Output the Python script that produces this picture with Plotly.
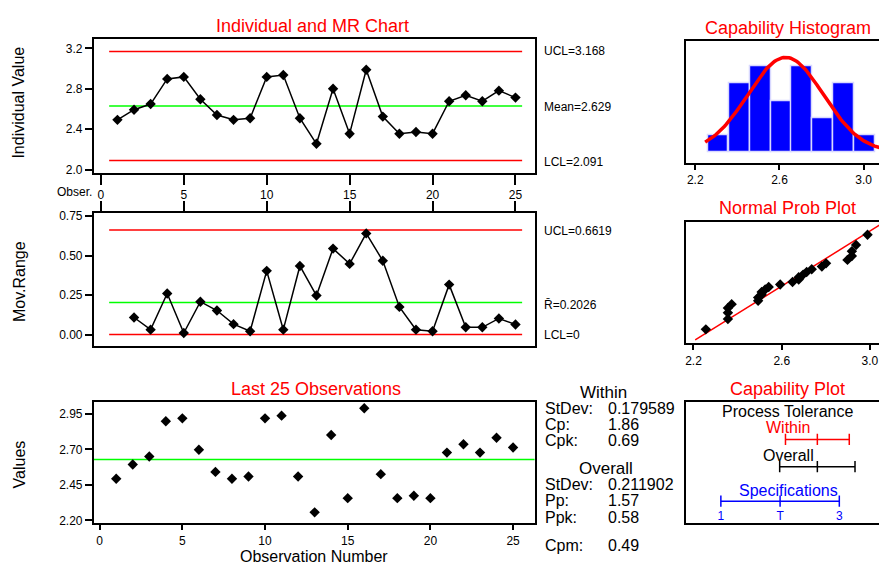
import numpy as np
import plotly.graph_objects as go
from statistics import NormalDist

W, H = 879, 568

# ---------------- data ----------------
observation = [1, 2, 3, 4, 5, 6, 7, 8, 9, 10, 11, 12, 13, 14, 15, 16, 17, 18, 19, 20, 21, 22, 23, 24, 25]
individual = [2.493, 2.593, 2.649, 2.898, 2.918, 2.697, 2.541, 2.493, 2.509, 2.918,
              2.937, 2.509, 2.256, 2.801, 2.356, 2.989, 2.525, 2.356, 2.373, 2.356,
              2.677, 2.736, 2.677, 2.782, 2.713]
mr_observation = [2, 3, 4, 5, 6, 7, 8, 9, 10, 11, 12, 13, 14, 15, 16, 17, 18, 19, 20, 21, 22, 23, 24, 25]
moving_range = [0.108, 0.031, 0.260, 0.010, 0.208, 0.152, 0.066, 0.021, 0.403, 0.031,
                0.434, 0.247, 0.544, 0.447, 0.640, 0.467, 0.175, 0.031, 0.021, 0.316,
                0.046, 0.046, 0.102, 0.064]

i_ucl, i_mean, i_lcl = 3.168, 2.629, 2.091
mr_ucl, mr_bar, mr_lcl = 0.6619, 0.2026, 0.0
limit_span = [0.5, 25.4]

hist_centers = [2.309, 2.41, 2.51, 2.61, 2.707, 2.804, 2.904, 3.006]
hist_counts = [1, 4, 5, 3, 5, 2, 4, 1]
bin_width = 0.0996

stdev_within = 0.179589
stdev_overall = 0.211902
cp, cpk, pp, ppk, cpm = 1.86, 0.69, 1.57, 0.58, 0.49

within_tol = [i_lcl, i_mean, i_ucl]
overall_tol = [1.993, 2.629, 3.265]
spec_limits = [1, 2, 3]
spec_labels = ["1", "T", "3"]

FONT = "Arial, 'Liberation Sans', sans-serif"
RED, GREEN, BLUE = "#FF0000", "#00FF00", "#0000FF"


def px_x(p):
    return p / W


def px_y(p):
    return 1 - p / H


fig = go.Figure()

# ---------- Individual chart ----------
for val, col in [(i_ucl, RED), (i_mean, GREEN), (i_lcl, RED)]:
    fig.add_trace(go.Scatter(x=limit_span, y=[val, val], mode="lines",
                             line=dict(color=col, width=1.5), xaxis="x", yaxis="y"))
fig.add_trace(go.Scatter(x=observation, y=individual, mode="lines+markers",
                         line=dict(color="black", width=1.5),
                         marker=dict(symbol="diamond", size=8, color="black"),
                         xaxis="x", yaxis="y"))

# ---------- MR chart ----------
for val, col in [(mr_ucl, RED), (mr_bar, GREEN), (mr_lcl, RED)]:
    fig.add_trace(go.Scatter(x=limit_span, y=[val, val], mode="lines",
                             line=dict(color=col, width=1.5), xaxis="x2", yaxis="y2"))
fig.add_trace(go.Scatter(x=mr_observation, y=moving_range, mode="lines+markers",
                         line=dict(color="black", width=1.5),
                         marker=dict(symbol="diamond", size=8, color="black"),
                         xaxis="x2", yaxis="y2"))

# ---------- Last 25 observations ----------
fig.add_trace(go.Scatter(x=[-0.5, 26.3], y=[i_mean, i_mean], mode="lines",
                         line=dict(color=GREEN, width=1.5), xaxis="x3", yaxis="y3"))
fig.add_trace(go.Scatter(x=observation, y=individual, mode="markers",
                         marker=dict(symbol="diamond", size=8, color="black"),
                         xaxis="x3", yaxis="y3"))

# ---------- Capability histogram ----------
fig.add_trace(go.Bar(x=hist_centers, y=hist_counts, width=bin_width,
                     marker=dict(color=BLUE, line=dict(color="#D8D8FF", width=1.5)),
                     xaxis="x4", yaxis="y4"))
nd = NormalDist(i_mean, stdev_within)
curve_x = np.linspace(2.247, 3.08, 120)
curve_y = [len(individual) * bin_width * nd.pdf(v) for v in curve_x]
fig.add_trace(go.Scatter(x=curve_x, y=curve_y, mode="lines",
                         line=dict(color=RED, width=3.5), xaxis="x4", yaxis="y4"))

# ---------- Normal probability plot ----------
n = len(individual)
sorted_vals = sorted(individual)
z_scores = [NormalDist().inv_cdf((i + 1 - 0.3) / (n + 0.4)) for i in range(n)]
line_x = [2.2077, 3.08]
line_z = [(v - i_mean) / stdev_within for v in line_x]
fig.add_trace(go.Scatter(x=line_x, y=line_z, mode="lines",
                         line=dict(color=RED, width=1.5), xaxis="x5", yaxis="y5"))
fig.add_trace(go.Scatter(x=sorted_vals, y=z_scores, mode="markers",
                         marker=dict(symbol="diamond", size=8, color="black"),
                         xaxis="x5", yaxis="y5"))

# ---------- Capability plot ----------
for vals, yv, col in [(within_tol, 0.689, RED), (overall_tol, 0.465, "black"),
                      (spec_limits, 0.182, BLUE)]:
    fig.add_trace(go.Scatter(x=vals, y=[yv] * 3, mode="lines+markers",
                             line=dict(color=col, width=1.5),
                             marker=dict(symbol="line-ns-open", size=8,
                                         line=dict(color=col, width=1.5)),
                             xaxis="x6", yaxis="y6"))
fig.add_trace(go.Scatter(x=spec_limits, y=[0.05] * 3, mode="text", text=spec_labels,
                         textfont=dict(color=BLUE, size=12, family=FONT),
                         xaxis="x6", yaxis="y6"))

# ---------------- axes ----------------
base = dict(showgrid=False, zeroline=False, showline=True, linecolor="black",
            linewidth=2, mirror=True, tickfont=dict(size=12, color="black", family=FONT),
            tickcolor="black", tickwidth=1.5, fixedrange=True)

left_dom = [px_x(93), px_x(535)]
right_dom = [px_x(686), 1.0]

layout_axes = dict(
    xaxis=dict(base, domain=left_dom, range=[-0.42, 26.2], tickvals=[0, 5, 10, 15, 20, 25],
               ticks="outside", ticklen=10, anchor="y"),
    yaxis=dict(base, domain=[px_y(171), px_y(36)], range=[1.971, 3.288],
               tickvals=[2.0, 2.4, 2.8, 3.2], tickformat=".1f", ticks="outside", ticklen=7,
               anchor="x"),
    xaxis2=dict(base, domain=left_dom, range=[-0.42, 26.2], tickvals=[0, 5, 10, 15, 20, 25],
                side="top", ticks="outside", ticklen=10, showticklabels=False, anchor="y2"),
    yaxis2=dict(base, domain=[px_y(347), px_y(212)], range=[-0.073, 0.769],
                tickvals=[0, 0.25, 0.5, 0.75], tickformat=".2f", ticks="outside", ticklen=7,
                anchor="x2"),
    xaxis3=dict(base, domain=left_dom, range=[-0.35, 26.35], tickvals=[0, 5, 10, 15, 20, 25],
                ticks="outside", ticklen=5, anchor="y3"),
    yaxis3=dict(base, domain=[px_y(526.7), px_y(403.3)], range=[2.179, 3.036],
                tickvals=[2.20, 2.45, 2.70, 2.95], tickformat=".2f", ticks="outside",
                ticklen=7, anchor="x3"),
    xaxis4=dict(base, domain=right_dom, range=[2.157, 3.0726], tickvals=[2.2, 2.6, 3.0],
                tickformat=".1f", ticks="outside", ticklen=5, anchor="y4"),
    yaxis4=dict(base, domain=[px_y(161), px_y(37.7)], range=[-0.63, 6.48], mirror=False,
                showticklabels=False, ticks="", anchor="x4"),
    xaxis5=dict(base, domain=right_dom, range=[2.167, 3.041], tickvals=[2.2, 2.6, 3.0],
                tickformat=".1f", ticks="outside", ticklen=5, anchor="y5"),
    yaxis5=dict(base, domain=[px_y(344), px_y(221)], range=[-2.477, 2.437], mirror=False,
                showticklabels=False, ticks="", anchor="x5"),
    xaxis6=dict(base, domain=right_dom, range=[0.415, 3.67], showticklabels=False, ticks="",
                anchor="y6"),
    yaxis6=dict(base, domain=[px_y(526.7), px_y(403.3)], range=[0, 1], mirror=False,
                showticklabels=False, ticks="", anchor="x6"),
)


def ann(text, x, y, size=12, color="black", xanchor="left", angle=0):
    return dict(text=text, x=px_x(x), y=px_y(y), xref="paper", yref="paper",
                xanchor=xanchor, yanchor="middle", showarrow=False, textangle=angle,
                borderpad=0, font=dict(size=size, color=color, family=FONT))


S = 16  # stats panel font size
annotations = [
    # titles
    ann("Individual and MR Chart", 312, 22, 18, RED, "center"),
    ann("Capability Histogram", 788, 24, 18, RED, "center"),
    ann("Normal Prob Plot", 787, 207, 18, RED, "center"),
    ann("Last 25 Observations", 315, 390, 18, RED, "center"),
    ann("Capability Plot", 787, 391, 18, RED, "center"),
    # axis titles
    ann("Individual Value", 18, 100, 16, "black", "center", -90),
    ann("Mov.Range", 18, 281, 16, "black", "center", -90),
    ann("Values", 18, 467, 16, "black", "center", -90),
    ann("Observation Number", 313, 560, 16, "black", "center"),
    ann("Obser.", 92, 191, 12, "black", "right"),
    # control limit labels
    ann(f"UCL={i_ucl}", 543, 48),
    ann(f"Mean={i_mean}", 543, 104),
    ann(f"LCL={i_lcl}", 543, 160),
    ann(f"UCL={mr_ucl}", 543, 230),
    ann(f"R\u0304={mr_bar}", 543, 305),
    ann("LCL=0", 543, 336),
    # stats panel
    ann("Within", 603, 394, S + 1, "black", "center"),
    ann("StDev:", 544, 410, S),
    ann(f"{stdev_within}", 607, 410, S),
    ann("Cp:", 544, 426, S),
    ann(f"{cp:.2f}", 607, 426, S),
    ann("Cpk:", 544, 443, S),
    ann(f"{cpk:.2f}", 607, 443, S),
    ann("Overall", 606, 471, S + 1, "black", "center"),
    ann("StDev:", 544, 487, S),
    ann(f"{stdev_overall}", 607, 487, S),
    ann("Pp:", 544, 504, S),
    ann(f"{pp:.2f}", 607, 504, S),
    ann("Ppk:", 544, 521, S),
    ann(f"{ppk:.2f}", 607, 521, S),
    ann("Cpm:", 544, 549, S),
    ann(f"{cpm:.2f}", 607, 549, S),
    # capability plot labels
    ann("Process Tolerance", 787, 413, 16, "black", "center"),
    ann("Within", 788, 430, 16, RED, "center"),
    ann("Overall", 788, 458, 16, "black", "center"),
    ann("Specifications", 788, 493, 16, BLUE, "center"),
]

fig.update_layout(
    width=W, height=H, autosize=False,
    margin=dict(l=0, r=0, t=0, b=0, pad=0),
    paper_bgcolor="white", plot_bgcolor="white",
    showlegend=False, bargap=0,
    font=dict(family=FONT, size=12, color="black"),
    annotations=annotations,
    **layout_axes,
)

fig.write_html("out.html")
